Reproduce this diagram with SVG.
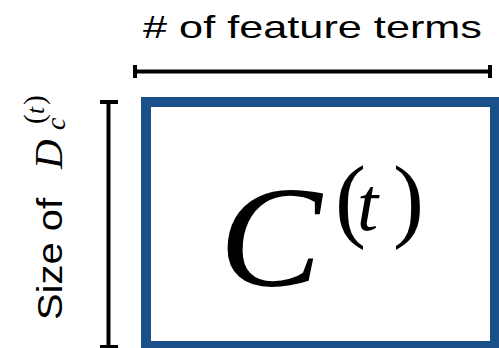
<svg xmlns="http://www.w3.org/2000/svg" width="499" height="348" viewBox="0 0 499 348">
<style>
.lbl{font-family:"Liberation Sans","Noto Sans",sans-serif;fill:#000}
.math{font-family:"Liberation Serif","DejaVu Serif",serif;font-style:italic;fill:#000}
.up{font-style:normal}
.bar{stroke:#000;stroke-width:4;fill:none}
</style>
<rect width="499" height="348" fill="#fff"/>
<g id="matrix">
<rect x="146" y="102" width="349" height="244" fill="#fff" stroke="#19508a" stroke-width="10"/>
<text class="math" transform="translate(219,286) scale(1.1,1.03)" x="0" y="0" font-size="140">C</text>
<text class="math" y="230" font-size="93"><tspan class="up" x="335">(</tspan><tspan x="357" font-size="76">t</tspan><tspan class="up" x="393">)</tspan></text>
</g>
<g id="connectors">
<path class="bar" d="M135 71.5H490M135 65V78M490 65V78"/>
<path class="bar" d="M108.5 102V347M100 102H118M100 347H118"/>
</g>
<g id="top-label">
<text class="lbl" x="143" y="38" font-size="32" textLength="339" lengthAdjust="spacingAndGlyphs"># of feature terms</text>
</g>
<g id="side-label" transform="translate(62,320) rotate(-90)">
<text class="lbl" x="0" y="0" font-size="35" textLength="122" lengthAdjust="spacingAndGlyphs">Size of</text>
<text class="math" font-size="41"><tspan x="151" y="0">D</tspan><tspan x="190" y="3" font-size="28">c</tspan><tspan class="up" x="196" y="-18" font-size="29">(</tspan><tspan x="206" y="-18" font-size="25">t</tspan><tspan class="up" x="215" y="-18" font-size="29">)</tspan></text>
</g>
</svg>
